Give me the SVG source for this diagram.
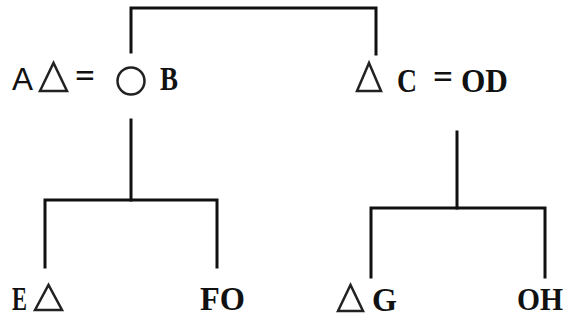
<svg xmlns="http://www.w3.org/2000/svg" width="567" height="321" viewBox="0 0 567 321">
<style>
.ln{fill:none;stroke:#111;stroke-width:3;stroke-linecap:square}
.sym{fill:none;stroke:#222;stroke-width:2.5;stroke-linejoin:miter}
.lb{font-family:'Liberation Serif','DejaVu Serif',serif;font-weight:700;font-size:34px;fill:#111}
.sa{font-family:'Liberation Sans','DejaVu Sans',sans-serif;font-size:32px;fill:#111}
</style>
<rect width="567" height="321" fill="#fff"/>
<g id="connectors">
<path class="ln" d="M131,52 V8 H376 V54"/>
<path class="ln" d="M131,120 V200"/>
<path class="ln" d="M45,267 V200 H217 V267"/>
<path class="ln" d="M457,132 V208"/>
<path class="ln" d="M371,277 V208 H545 V277"/>
<text class="lb" x="75" y="87" textLength="20" lengthAdjust="spacingAndGlyphs">=</text>
<text class="lb" x="433" y="88" textLength="20" lengthAdjust="spacingAndGlyphs">=</text>
</g>
<g id="node-A">
<text class="sa" x="12" y="90" textLength="21" lengthAdjust="spacingAndGlyphs">A</text>
<polygon class="sym" points="40,91 53.5,63 67,91"/>
</g>
<g id="node-B">
<circle class="sym" cx="131" cy="81" r="13.5"/>
<text class="lb" x="160" y="90" textLength="18" lengthAdjust="spacingAndGlyphs">B</text>
</g>
<g id="node-C">
<polygon class="sym" points="357,91 369,63 381,91"/>
<text class="lb" x="397" y="92" textLength="20" lengthAdjust="spacingAndGlyphs">C</text>
</g>
<g id="node-D">
<text class="lb" x="461" y="92" textLength="47" lengthAdjust="spacingAndGlyphs">OD</text>
</g>
<g id="node-E">
<text class="lb" x="12" y="310" textLength="15" lengthAdjust="spacingAndGlyphs">E</text>
<polygon class="sym" points="35,310 48.5,285 62,310"/>
</g>
<g id="node-F">
<text class="lb" x="200" y="310" textLength="45" lengthAdjust="spacingAndGlyphs">FO</text>
</g>
<g id="node-G">
<polygon class="sym" points="338,311 350.5,285 363,311"/>
<text class="lb" x="372" y="311" textLength="25" lengthAdjust="spacingAndGlyphs">G</text>
</g>
<g id="node-H">
<text class="lb" x="517" y="310" style="font-size:31px" textLength="46" lengthAdjust="spacingAndGlyphs">OH</text>
</g>
</svg>
